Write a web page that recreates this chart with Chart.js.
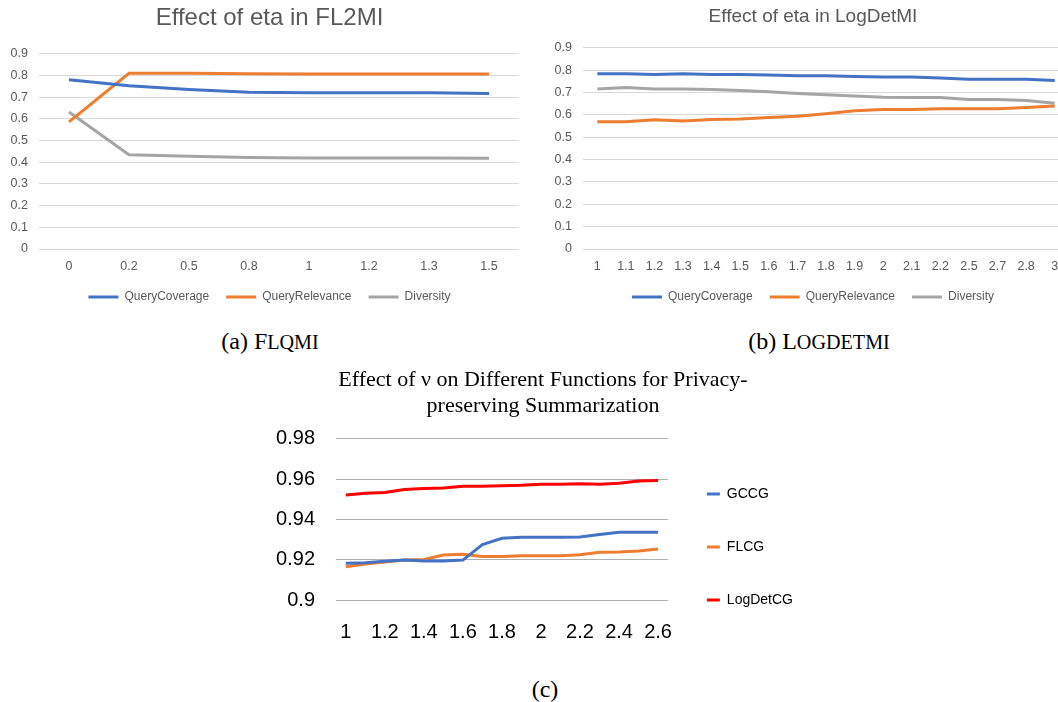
<!DOCTYPE html>
<html>
<head>
<meta charset="utf-8">
<script src="https://cdn.jsdelivr.net/npm/chart.js@4.4.0/dist/chart.umd.min.js"></script>
<style>
	html, body { margin: 0; padding: 0; background: #fff; }
	body { width: 1058px; height: 702px; overflow: hidden; position: relative; }
	canvas { position: absolute; }
	.cap { position: absolute; font-family: "Liberation Serif", "Times New Roman", serif; font-size: 24px;
		color: #000; text-align: center; white-space: nowrap; }
	.sc { font-size: 0.84em; }
</style>
</head>
<body>
<canvas id="chartA" width="539" height="320" style="left:0;top:0"></canvas>
<canvas id="chartB" width="566" height="320" style="left:530px;top:0"></canvas>
<canvas id="chartC" width="566" height="300" style="left:260px;top:360px"></canvas>
<div class="cap" style="left:170px;top:328px;width:200px">(a) F<span class="sc">LQMI</span></div>
<div class="cap" style="left:719px;top:328px;width:200px">(b) L<span class="sc">OGDETMI</span></div>
<div class="cap" style="left:495px;top:676px;width:100px">(c)</div>

<script>
// ---- data ----
var etaA = ["0", "0.2", "0.5", "0.8", "1", "1.2", "1.3", "1.5"];
var coverageA = [0.780, 0.753, 0.735, 0.723, 0.720, 0.720, 0.720, 0.717];
var relevanceA = [0.586, 0.810, 0.810, 0.808, 0.807, 0.807, 0.807, 0.807];
var diversityA = [0.632, 0.435, 0.428, 0.422, 0.419, 0.419, 0.419, 0.418];

var etaB = ["1", "1.1", "1.2", "1.3", "1.4", "1.5", "1.6", "1.7", "1.8", "1.9", "2", "2.1", "2.2", "2.5", "2.7", "2.8", "3"];
var coverageB = [0.784, 0.784, 0.781, 0.784, 0.781, 0.781, 0.778, 0.775, 0.775, 0.772, 0.769, 0.769, 0.765, 0.759, 0.759, 0.759, 0.754];
var relevanceB = [0.569, 0.569, 0.578, 0.573, 0.579, 0.582, 0.588, 0.594, 0.605, 0.618, 0.624, 0.624, 0.627, 0.627, 0.627, 0.633, 0.640];
var diversityB = [0.716, 0.722, 0.716, 0.716, 0.713, 0.709, 0.703, 0.696, 0.690, 0.684, 0.679, 0.678, 0.678, 0.669, 0.669, 0.664, 0.652];

var nuC = ["1", "1.1", "1.2", "1.3", "1.4", "1.5", "1.6", "1.7", "1.8", "1.9", "2", "2.1", "2.2", "2.3", "2.4", "2.5", "2.6"];
var gccgC = [0.9182, 0.9185, 0.9192, 0.9198, 0.9194, 0.9194, 0.9198, 0.9275, 0.9306, 0.9312, 0.9312, 0.9312, 0.9313, 0.9325, 0.9336, 0.9336, 0.9336];
var flcgC = [0.9165, 0.9179, 0.9189, 0.9199, 0.9201, 0.9223, 0.9227, 0.9216, 0.9216, 0.9219, 0.9220, 0.9220, 0.9225, 0.9237, 0.9238, 0.9243, 0.9253];
var logdetC = [0.9521, 0.9530, 0.9534, 0.9548, 0.9553, 0.9556, 0.9564, 0.9565, 0.9567, 0.9569, 0.9574, 0.9574, 0.9577, 0.9574, 0.9580, 0.9590, 0.9593];

(function (root){
	var FIG = root.FIG = (root.FIG || {});

	var BLUE = "#4472C4", ORANGE = "#ED7D31", GREY = "#A5A5A5", RED = "#FF0000";
	var SANS = "'Liberation Sans', Arial, sans-serif";
	var SERIF = "'Liberation Serif', 'Times New Roman', serif";

	Chart.defaults.font.family = SANS;
	Chart.defaults.animation = false;

	FIG.series = function(label, data, color){
		return {label: label, data: data, borderColor: color, backgroundColor: color,
			borderWidth: 3, pointRadius: 0, tension: 0, fill: false};
	};

	//flat legend swatches, no outline
	FIG.legendLabels = function(chart){
		return Chart.defaults.plugins.legend.labels.generateLabels(chart).map(function(item){
			item.lineWidth = 0;
			item.fillStyle = item.strokeStyle;
			return item;
		});
	};

	FIG.trim = function(v){
		return String(Number(v.toFixed(2)));
	};

	//empty axis on the right, only there to shift the centred title/legend like excel does
	FIG.spacer = function(width, weight){
		return {type: "linear", position: "right", weight: weight || 0, display: true,
			grid: {display: false}, border: {display: false}, ticks: {display: false},
			afterFit: function(s){ s.width = width; }};
	};

	FIG.etaChart = function(id, title, labels, cov, rel, div, opts){
		var ctx = document.getElementById(id).getContext("2d");
		return new Chart(ctx, {
			type: "line",
			data: {
				labels: labels,
				datasets: [
					FIG.series("QueryCoverage", cov, BLUE),
					FIG.series("QueryRelevance", rel, ORANGE),
					FIG.series("Diversity", div, GREY)
				]
			},
			options: {
				responsive: false,
				layout: {padding: {left: 0, right: 0, top: 0, bottom: 7}},
				plugins: {
					tooltip: {enabled: false},
					title: {display: true, text: title, color: "#595959",
						font: {size: opts.titleSize, weight: "normal"},
						padding: {top: opts.titleTop, bottom: opts.titleBottom}},
					legend: {position: "bottom",
						labels: {boxWidth: 30, boxHeight: 3, padding: 17, color: "#595959",
							font: {size: 12}, generateLabels: FIG.legendLabels}}
				},
				scales: {
					x: {offset: true, grid: {display: false, drawTicks: false}, border: {display: false},
						ticks: {color: "#595959", font: {size: 12.5}, autoSkip: false, maxRotation: 0, padding: 10},
						afterFit: function(s){ s.height = 25; }},
					y: {min: 0, max: 0.9,
						grid: {color: "#D9D9D9", lineWidth: 1, drawTicks: false}, border: {display: false},
						ticks: {stepSize: 0.1, color: "#595959", font: {size: 12.5}, padding: 11,
							callback: function(v){ return FIG.trim(v); }},
						afterFit: function(s){ s.width = opts.yWidth; }},
					pad: FIG.spacer(opts.spacer)
				}
			}
		});
	};

	FIG.privacyChart = function(){
		var ctx = document.getElementById("chartC").getContext("2d");
		return new Chart(ctx, {
			type: "line",
			data: {
				labels: nuC,
				datasets: [
					FIG.series("GCCG", gccgC, BLUE),
					FIG.series("FLCG", flcgC, ORANGE),
					FIG.series("LogDetCG", logdetC, RED)
				]
			},
			options: {
				responsive: false,
				layout: {padding: {left: 0, right: 0, top: 0, bottom: 14}},
				plugins: {
					tooltip: {enabled: false},
					title: {display: true, color: "#000",
						text: ["Effect of \u03bd on Different Functions for Privacy-", "preserving Summarization"],
						font: {family: SERIF, size: 22, weight: "normal", lineHeight: 1.2},
						padding: {top: 7, bottom: 19}},
					legend: {position: "right", align: "end", maxWidth: 140,
						labels: {boxWidth: 13, boxHeight: 3, padding: 39, color: "#000",
							font: {size: 14}, generateLabels: FIG.legendLabels}}
				},
				scales: {
					x: {offset: true, grid: {display: false}, border: {display: false},
						ticks: {color: "#000", font: {size: 20}, autoSkip: false, maxRotation: 0, padding: 12,
							callback: function(v, i){ return i % 2 === 0 ? this.getLabelForValue(v) : ""; }},
						afterFit: function(s){ s.height = 46; }},
					y: {min: 0.9, max: 0.98,
						grid: {color: "#B0B0B0", lineWidth: 1, drawTicks: false}, border: {display: false},
						ticks: {stepSize: 0.02, color: "#000", font: {size: 20}, padding: 21,
							callback: function(v){ return FIG.trim(v); }},
						afterFit: function(s){ s.width = 76; }},
					pad: FIG.spacer(23, 2000)
				}
			}
		});
	};

	FIG.render = function(){
		FIG.etaChart("chartA", "Effect of eta in FL2MI", etaA, coverageA, relevanceA, diversityA,
			{spacer: 20, yWidth: 39, titleSize: 24, titleTop: 4, titleBottom: 21});
		FIG.etaChart("chartB", "Effect of eta in LogDetMI", etaB, coverageB, relevanceB, diversityB,
			{spacer: 27, yWidth: 53, titleSize: 19, titleTop: 5, titleBottom: 20});
		FIG.privacyChart();
	};

})(window);

FIG.render();
</script>
</body>
</html>
